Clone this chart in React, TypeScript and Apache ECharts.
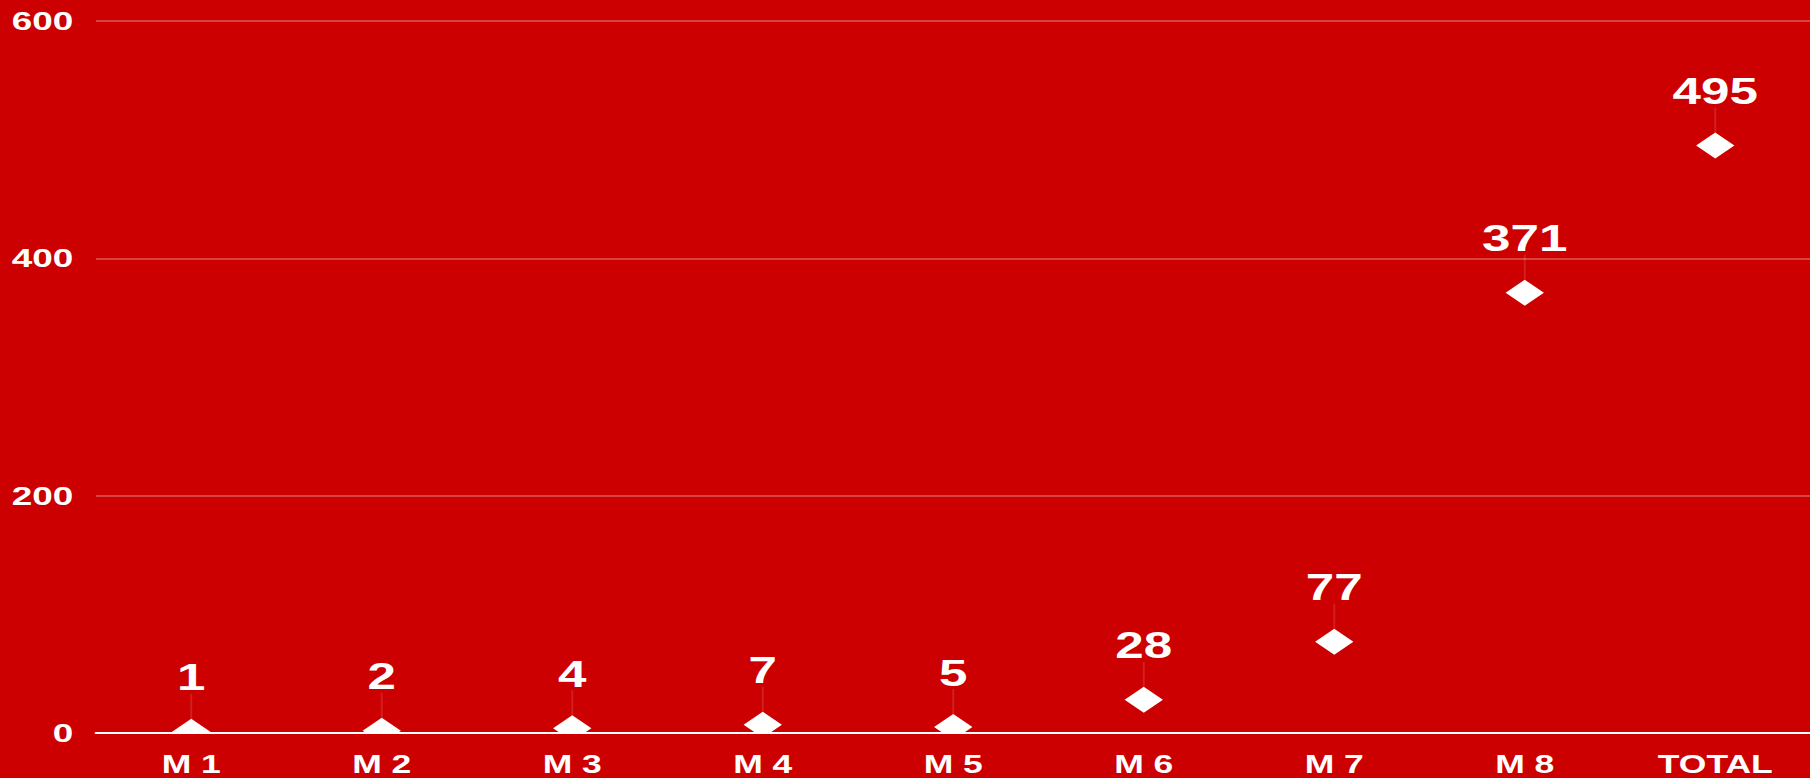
import React, { useEffect, useRef } from "react";
import * as echarts from "echarts";

const categories = ["M 1", "M 2", "M 3", "M 4", "M 5", "M 6", "M 7", "M 8", "TOTAL"];
const values = [1, 2, 4, 7, 5, 28, 77, 371, 495];
const yTicks = { min: 0, max: 600, interval: 200 };

const BG = "#CC0000";
const FONT = "Liberation Sans";
const STRETCH = 1.42;
const W = 1810 / STRETCH;
const H = 778;

export default function App() {
  const ref = useRef<HTMLDivElement>(null);
  useEffect(() => {
    document.body.style.margin = "0";
    document.body.style.overflow = "hidden";
    if (!ref.current) return;
    const chart = echarts.init(ref.current, undefined, { renderer: "svg" });
    chart.setOption({
      animation: false,
      backgroundColor: BG,
      grid: { left: 67.6, right: 0, top: 21, bottom: 45, containLabel: false },
      graphic: [
        {
          type: "rect",
          left: 0,
          bottom: 0,
          z: 5,
          shape: { width: W, height: 45 },
          style: { fill: BG },
        },
      ],
      xAxis: {
        type: "category",
        data: categories,
        z: 10,
        axisLine: { lineStyle: { color: "#ffffff", width: 2 } },
        axisTick: { show: false },
        axisLabel: {
          color: "#ffffff",
          fontFamily: FONT,
          fontWeight: "bold",
          fontSize: 25,
          margin: 19,
        },
      },
      yAxis: {
        type: "value",
        z: 10,
        min: yTicks.min,
        max: yTicks.max,
        interval: yTicks.interval,
        axisLine: { show: false },
        axisTick: { show: false },
        splitLine: { lineStyle: { color: "rgba(255,255,255,0.35)", width: 1.5 } },
        axisLabel: {
          color: "#ffffff",
          fontFamily: FONT,
          fontWeight: "bold",
          fontSize: 26,
          margin: 16,
        },
      },
      series: [
        {
          type: "scatter",
          data: values,
          symbol: "rect",
          symbolSize: [1.4, 25],
          symbolOffset: [0, -25.5],
          itemStyle: { color: "rgba(255,255,255,0.15)" },
          z: 1,
          silent: true,
        },
        {
          type: "scatter",
          data: values,
          symbol: "diamond",
          symbolSize: [27, 26],
          itemStyle: { color: "#ffffff", opacity: 1 },
          z: 2,
          label: {
            show: true,
            position: "top",
            distance: 23,
            color: "#ffffff",
            fontFamily: FONT,
            fontWeight: "bold",
            fontSize: 36,
          },
        },
      ],
    });
    return () => chart.dispose();
  }, []);
  return (
    <div
      ref={ref}
      style={{
        width: W,
        height: H,
        transform: `scaleX(${STRETCH})`,
        transformOrigin: "0 0",
      }}
    />
  );
}
